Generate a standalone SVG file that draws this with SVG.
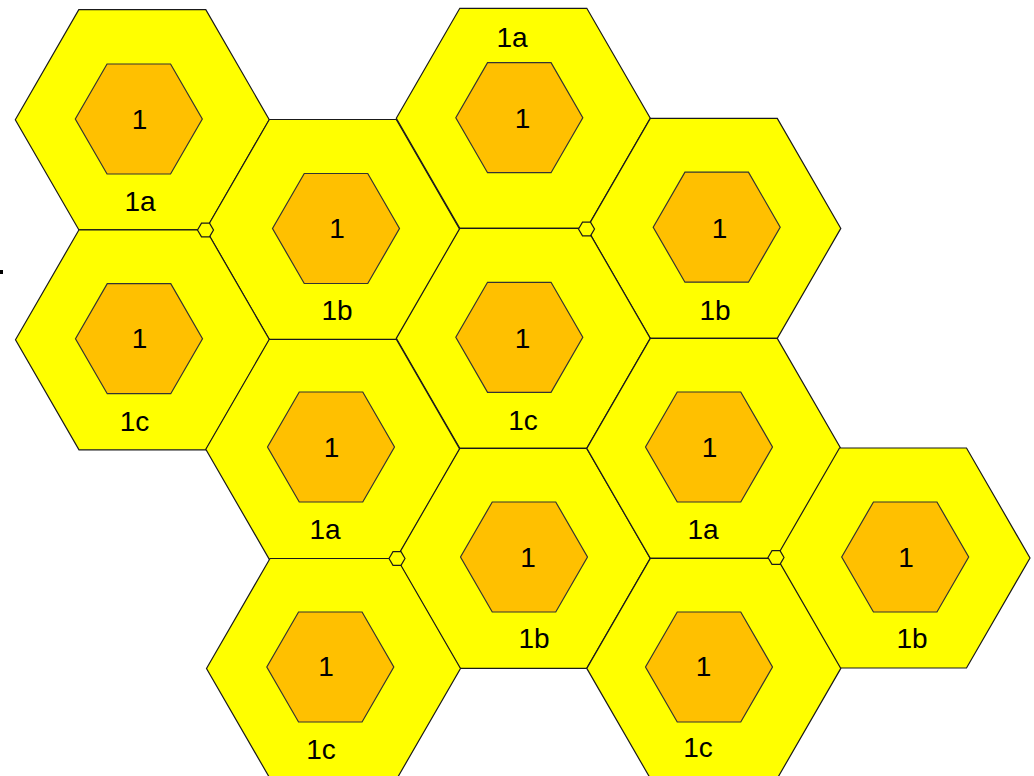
<svg xmlns="http://www.w3.org/2000/svg" xmlns:xlink="http://www.w3.org/1999/xlink" width="1034" height="776" viewBox="0 0 1034 776">
<style>
.outer{fill:#FFFF00;stroke:#1a1a1a;stroke-width:1.2}
.inner{fill:#FFC000;stroke:#333333;stroke-width:1.2}
.joint{fill:#FFFF00;stroke:#1a1a1a;stroke-width:1.2}
text{font-family:"Liberation Sans",Arial,sans-serif;font-size:28px;fill:#000;text-anchor:middle}
</style>
<defs>
<polygon id="ho" points="-127,0 -63.5,-110 63.5,-110 127,0 63.5,110 -63.5,110"/>
<polygon id="hi" points="-63.5,0 -31.75,-55 31.75,-55 63.5,0 31.75,55 -31.75,55"/>
<polygon id="hs" points="-8,0 -4,-6.9 4,-6.9 8,0 4,6.9 -4,6.9"/>
</defs>
<rect x="0" y="270" width="3" height="4" fill="#000"/>
<g id="cellA"><use href="#ho" class="outer" x="142.3" y="119.7"/><use href="#hi" class="inner" x="138.8" y="119"/><text x="139.5" y="129">1</text><text x="140" y="210.5">1a</text></g>
<g id="cellB"><use href="#ho" class="outer" x="332.8" y="229.5"/><use href="#hi" class="inner" x="336" y="228.5"/><text x="337" y="238">1</text><text x="337" y="320">1b</text></g>
<g id="cellC"><use href="#ho" class="outer" x="142.5" y="339.8"/><use href="#hi" class="inner" x="139" y="338.7"/><text x="139.5" y="348">1</text><text x="134.5" y="430.5">1c</text></g>
<g id="cellD"><use href="#ho" class="outer" x="523.3" y="118.3"/><use href="#hi" class="inner" x="519.3" y="117.7"/><text x="522.5" y="128">1</text><text x="512" y="46.7">1a</text></g>
<g id="cellE"><use href="#ho" class="outer" x="713.8" y="228.4"/><use href="#hi" class="inner" x="716.7" y="227.2"/><text x="719.5" y="237.5">1</text><text x="715" y="319.5">1b</text></g>
<g id="cellF"><use href="#ho" class="outer" x="523.3" y="338.4"/><use href="#hi" class="inner" x="519.3" y="337.3"/><text x="522.5" y="347.5">1</text><text x="523" y="429.5">1c</text></g>
<g id="cellG"><use href="#ho" class="outer" x="332.8" y="449.3"/><use href="#hi" class="inner" x="331" y="447"/><text x="331.5" y="457">1</text><text x="325" y="539">1a</text></g>
<g id="cellH"><use href="#ho" class="outer" x="523.3" y="558.4"/><use href="#hi" class="inner" x="524" y="557"/><text x="528" y="567">1</text><text x="534" y="648">1b</text></g>
<g id="cellI"><use href="#ho" class="outer" x="713.8" y="448.4"/><use href="#hi" class="inner" x="709" y="447"/><text x="709.5" y="457">1</text><text x="703" y="538.5">1a</text></g>
<g id="cellJ"><use href="#ho" class="outer" x="903" y="558"/><use href="#hi" class="inner" x="905.2" y="557"/><text x="906" y="567">1</text><text x="912" y="648">1b</text></g>
<g id="cellK"><use href="#ho" class="outer" x="333.5" y="668.5"/><use href="#hi" class="inner" x="330.3" y="667"/><text x="326" y="676">1</text><text x="321" y="758.5">1c</text></g>
<g id="cellL"><use href="#ho" class="outer" x="713.8" y="668.4"/><use href="#hi" class="inner" x="709" y="667"/><text x="703.5" y="675.5">1</text><text x="698" y="757">1c</text></g>
<g id="joints">
<use href="#hs" class="joint" x="205.5" y="230"/>
<use href="#hs" class="joint" x="586.5" y="229"/>
<use href="#hs" class="joint" x="397" y="558.5"/>
<use href="#hs" class="joint" x="776" y="557.5"/>
</g>
</svg>
